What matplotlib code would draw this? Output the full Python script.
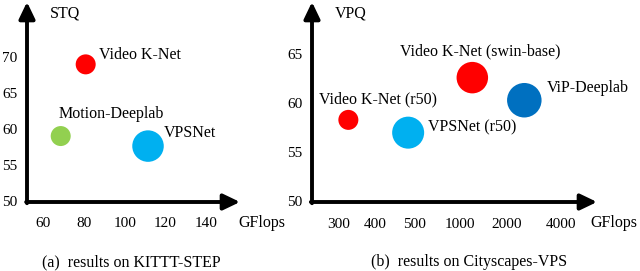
import numpy as np
import matplotlib
matplotlib.use("Agg")
import matplotlib.pyplot as plt
from matplotlib.transforms import offset_copy

plt.rcParams['font.family'] = ['Liberation Serif', 'DejaVu Serif']

# --- data: (a) KITTI-STEP ---
kitti_models = ['Video K-Net', 'Motion-Deeplab', 'VPSNet']
kitti_gflops = [80.8, 68.5, 111.5]
kitti_stq = [69.0, 59.0, 57.6]
kitti_xticks = [60, 80, 100, 120, 140]
kitti_yticks = [50, 55, 60, 65, 70]

# --- data: (b) Cityscapes-VPS ---
city_models = ['Video K-Net (r50)', 'VPSNet (r50)', 'Video K-Net (swin-base)', 'ViP-Deeplab']
city_gflops = [326, 485, 1262, 2641]
city_vpq = [58.3, 57.0, 62.6, 60.3]
city_xticks = [300, 400, 500, 1000, 2000, 4000]
city_yticks = [50, 55, 60, 65]

# styles
kitti_colors = ['#FF0000', '#92D050', '#00B0F0']
kitti_diam = [20, 20, 31.5]          # bubble diameter in px
kitti_offsets = [(9.5, 7), (-1.2, 16), (11.3, 9.5)]   # label offsets in pt
kitti_ha = ['left', 'left', 'left']

city_colors = ['#FF0000', '#00B0F0', '#FF0000', '#0070C0']
city_diam = [20, 32, 31.5, 34.5]
city_offsets = [(21, 15), (14, 4), (5.5, 19), (16, 8.5)]
city_ha = ['center', 'left', 'center', 'left']

# uneven spacing of the GFlops axis in panel (b)
gf_anchor = [100, 300, 400, 500, 1000, 2000, 4000, 8000]
pos_anchor = [-1.8, 0.0, 0.9, 1.875, 3.025, 4.2, 5.55, 8.25]


def fwd(x):
    return np.interp(x, gf_anchor, pos_anchor)


def inv(p):
    return np.interp(p, pos_anchor, gf_anchor)


W, H = 640, 271
fig = plt.figure(figsize=(W / 100, H / 100), dpi=100)


def frac(x0, x1, ytop, ybot):
    return [x0 / W, (H - ybot) / H, (x1 - x0) / W, (ybot - ytop) / H]


def style_axes(ax):
    for s in ax.spines.values():
        s.set_visible(False)
    ax.patch.set_visible(False)
    arrow = dict(arrowstyle='-|>,head_length=0.5,head_width=0.24',
                 mutation_scale=20, lw=2.8, color='black',
                 shrinkA=0, shrinkB=0)
    ax.annotate('', xy=(1, 0), xytext=(-0.004, 0), xycoords='axes fraction',
                arrowprops=arrow, annotation_clip=False)
    ax.annotate('', xy=(0, 1), xytext=(0, -0.006), xycoords='axes fraction',
                arrowprops=arrow, annotation_clip=False)
    ax.tick_params(axis='both', which='both', length=0, labelsize=11)
    ax.tick_params(axis='x', pad=10.5)
    ax.tick_params(axis='y', pad=7)


def bubbles(ax, xs, ys, names, colors, diam, offsets, has):
    sizes = [(d * 0.72) ** 2 for d in diam]
    ax.scatter(xs, ys, s=sizes, c=colors, linewidths=0, zorder=3, clip_on=False)
    for x, y, n, off, ha in zip(xs, ys, names, offsets, has):
        ax.annotate(n, (x, y), xytext=off, textcoords='offset points',
                    ha=ha, va='center', fontsize=11.5)


# (a)
ax1 = fig.add_axes(frac(27, 240, 2, 202))
style_axes(ax1)
ax1.set_xlim(51.9, 156.8)
ax1.set_ylim(49.8, 77.7)
ax1.set_xticks(kitti_xticks)
ax1.set_yticks(kitti_yticks)
bubbles(ax1, kitti_gflops, kitti_stq, kitti_models, kitti_colors,
        kitti_diam, kitti_offsets, kitti_ha)

# (b)
ax2 = fig.add_axes(frac(312, 597, 2, 202))
style_axes(ax2)
ax2.set_xscale('function', functions=(fwd, inv))
ax2.set_xlim(225, 5333)
ax2.set_ylim(49.94, 70.3)
ax2.set_xticks([])
ax2.set_xticks([], minor=True)
# tick labels for the uneven GFlops axis, placed through the axis scale
lab_tr = offset_copy(ax2.get_xaxis_transform(), fig=fig, x=0, y=-16.5, units='points')
for t in city_xticks:
    ax2.text(t, 0, str(t), transform=lab_tr, ha='center', va='center',
             fontsize=11, clip_on=False)
ax2.set_yticks(city_yticks)
bubbles(ax2, city_gflops, city_vpq, city_models, city_colors,
        city_diam, city_offsets, city_ha)

# axis names and captions
fig.text(50 / W, 1 - 13 / H, 'STQ', fontsize=11.5, va='center', ha='left')
fig.text(335 / W, 1 - 13 / H, 'VPQ', fontsize=11.5, va='center', ha='left')
fig.text(262 / W, 1 - 223 / H, 'GFlops', fontsize=11.5, va='center', ha='center')
fig.text(614 / W, 1 - 223 / H, 'GFlops', fontsize=11.5, va='center', ha='center')
fig.text(131 / W, 1 - 262 / H, '(a)  results on KITTT-STEP', fontsize=11.5,
         va='center', ha='center')
fig.text(469 / W, 1 - 262 / H, '(b)  results on Cityscapes-VPS', fontsize=11.5,
         va='center', ha='center')

fig.savefig('out.png', dpi=100)
